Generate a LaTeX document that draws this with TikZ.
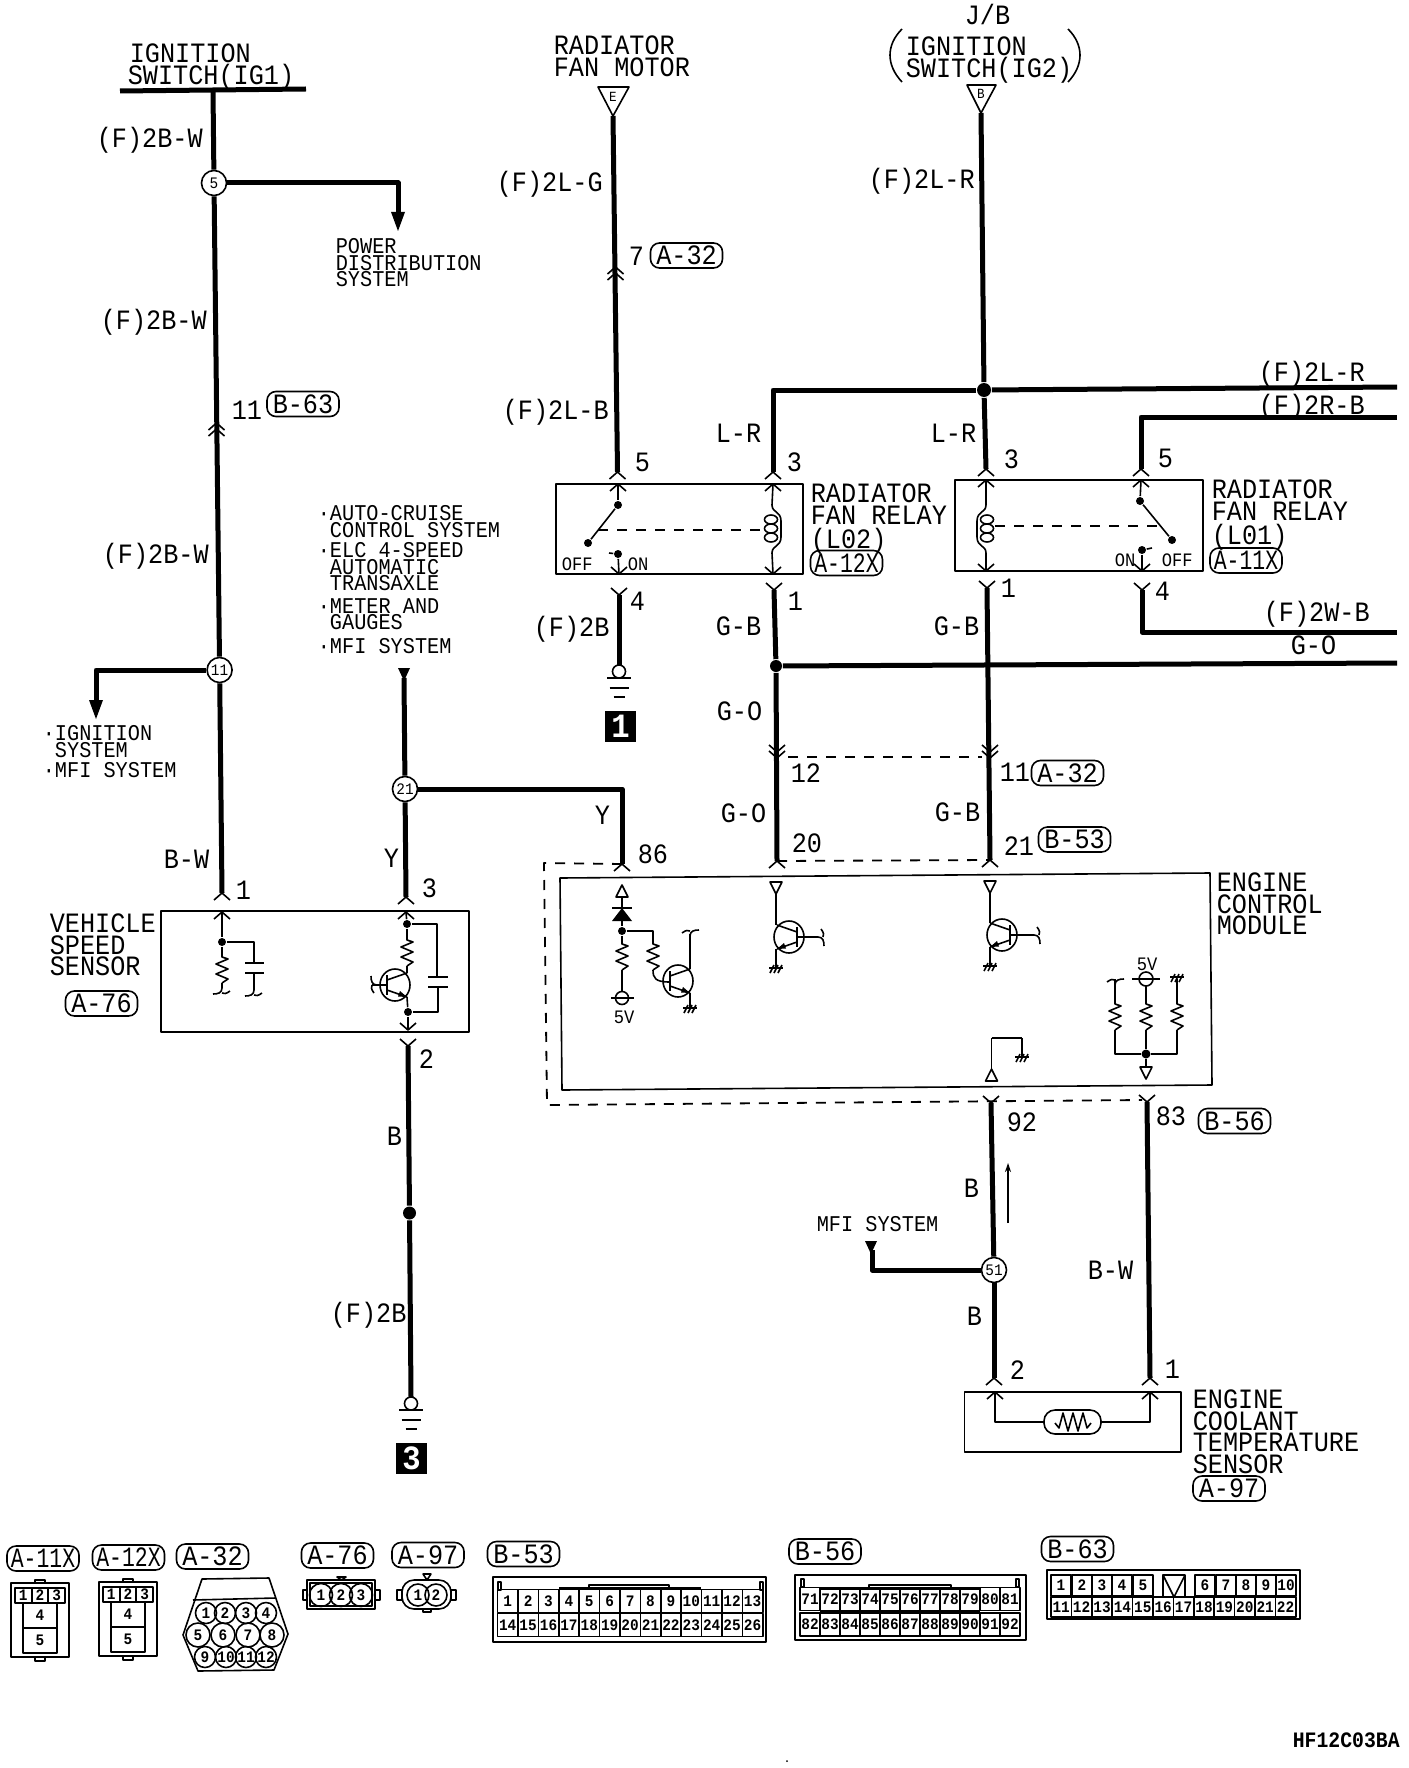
\documentclass[tikz,border=0pt]{standalone}
\usepackage{fontspec}
\usetikzlibrary{arrows.meta}
\newfontfamily\wirefont[FakeStretch=0.9]{Liberation Mono}
\newcommand\bigtxt{\wirefont\fontsize{28}{21.5}\selectfont}
\newcommand\smalltxt{\wirefont\fontsize{22.5}{16.5}\selectfont}
\newcommand\tinytxt{\wirefont\fontsize{19}{19}\selectfont}
\newcommand\pintxt{\wirefont\bfseries\fontsize{16}{16}\selectfont}
\lineskiplimit=-30pt
\tikzset{
	wire/.style={line width=5pt},
	shield/.style={line width=1.8pt,dash pattern=on 10pt off 9pt},
	lab/.style={font=\bigtxt,inner sep=0pt,anchor=base west},
	slab/.style={font=\smalltxt,inner sep=0pt,anchor=base west},
	tlab/.style={font=\tinytxt,inner sep=0pt,anchor=base west},
	block/.style={font=\bigtxt,inner sep=0pt,anchor=north west,align=left},
	sblock/.style={font=\smalltxt,inner sep=0pt,anchor=north west,align=left},
	tag/.style={draw,rounded corners=9pt,minimum width=72pt,minimum height=25pt,inner sep=0pt,font=\bigtxt},
	junc/.style={draw,circle,fill=white,minimum size=25pt,inner sep=0pt,font=\wirefont\fontsize{16}{16}\selectfont},
	jdot/.style={circle,fill=black,inner sep=0pt,minimum size=#1},
	badge/.style={fill=black,text=white,minimum width=31pt,minimum height=31pt,inner sep=0pt,font=\wirefont\bfseries\fontsize{34}{34}\selectfont},
	pinbox/.style={draw,minimum width=20.4pt,minimum height=23pt,inner sep=0pt,font=\pintxt},
	pincirc/.style={draw,circle,minimum size=#1,inner sep=0pt,font=\pintxt},
	chup/.pic={\draw (-8,7)--(0,0)--(8,7);},
	chdown/.pic={\draw (-8,-7)--(0,0)--(8,-7);},
	chupup/.pic={\draw (-8,7)--(0,0)--(8,7) (-8,13)--(0,6)--(8,13);},
	chdowndown/.pic={\draw (-8,-7)--(0,0)--(8,-7) (-8,-1)--(0,6)--(8,-1);},
	bigtip/.pic={\fill (-7,-19)--(7,-19)--(0,0)--cycle;},
	smalltip/.pic={\fill (-6,-13)--(6,-13)--(0,0)--cycle;},
	opendown/.pic={\draw[fill=white] (-6,-12)--(6,-12)--(0,0)--cycle;},
	openup/.pic={\draw[fill=white] (-6,12)--(6,12)--(0,0)--cycle;},
	res/.pic={\draw (0,0)--(0,2)--(6,4)--(-6,9)--(6,14)--(-6,19)--(6,24)--(0,28);},
	foot/.pic={\draw (-9,6) .. controls (-4,6) and (0,5) .. (0,0) (0,5) .. controls (2,6) and (4,6) .. (8,3);},
	gndhash/.pic={\draw (-7,0)--(7,0);
		\foreach \k in {-4,0,4} {\draw (\k+2,-3)--(\k-2,5);}},
	earth/.pic={\draw (0,6.5) circle (6.5);
		\draw[line width=2pt] (-12,13)--(12,13) (-9.5,23)--(9.5,23) (-5.5,32)--(5.5,32);},
	coil/.pic={\draw (0,0) .. controls (0,8) and (9,6) .. (9,16)--(9,32) .. controls (9,42) and (0,40) .. (0,48);
		\foreach \k in {14.5,23.5,32.5} {\draw (-1,\k) ellipse (6.5 and 4.5);}},
	qnpn/.pic={\draw (0,0) ellipse (15 and 16);
		\draw[line width=2.2pt] (-8,-10)--(-8,10);
		\draw (-8,-5)--(12,-12) (-8,5)--(12,12);
		\fill (12,12)--(3,11.5)--(5,6)--cycle;},
	relaypins/.pic={\draw (0,0) rectangle (58,74);
		\draw (24,-3) rectangle (34,0) (24,74) rectangle (34,78);
		\foreach \n/\px in {1/12.3,2/29,3/45.7} {\node[pinbox,minimum width=16.7pt,minimum height=15pt,line width=2pt] (-n\n) at (\px,12.5) {\n};}
		\node[pinbox,minimum width=34pt,minimum height=25pt] (-n4) at (29,32.5) {4};
		\node[pinbox,minimum width=34pt,minimum height=25pt] (-n5) at (29,57.5) {5};},
}
\begin{document}
\begin{tikzpicture}[x=1pt,y=-1pt,line width=1.6pt,line join=round]
	\path[use as bounding box,fill=white] (0,0) rectangle (1408,1768);
	% circled junctions and dots
	\node[junc] (j5) at (214,183) {5};
	\node[junc] (j11) at (219.6,670) {11};
	\node[junc] (j21) at (405,789) {21};
	\node[junc] (j51) at (994,1270) {51};
	\node[jdot=14pt] (jb) at (984,390) {};
	\node[jdot=12pt] (jgo) at (776,666) {};
	\node[jdot=13pt] (sp1) at (409.5,1213) {};
	\path (213,91) coordinate (ig1)
	(398,214) coordinate (pwr)
	(96,702) coordinate (ign)
	(222,893) coordinate (vss1)
	(404,678) coordinate (mfi1)
	(406,897) coordinate (vss3)
	(622,864) coordinate (ecm86)
	(408,1046) coordinate (vss2)
	(411,1397) coordinate (gnd3)
	(613,116) coordinate (mot)
	(617.5,472) coordinate (rl5)
	(619,595) coordinate (rl4)
	(619,665) coordinate (gnd1)
	(981,113) coordinate (jbin)
	(773,472) coordinate (rl3)
	(986,469) coordinate (rr3)
	(1141,469) coordinate (rr5)
	(1397,387) coordinate (out2lr)
	(1397,417) coordinate (out2rb)
	(774,590) coordinate (rl1)
	(987,588) coordinate (rr1)
	(1142,590) coordinate (rr4)
	(1397,632) coordinate (out2wb)
	(1397,663) coordinate (outgo)
	(777,861) coordinate (ecm20)
	(990,860) coordinate (ecm21)
	(991,1103) coordinate (ecm92)
	(1147,1102) coordinate (ecm83)
	(994,1378) coordinate (ect2)
	(1150,1378) coordinate (ect1)
	(872,1250) coordinate (mfi2);
	% main wires
	\draw[wire] (120,91)--(306,89);
	\draw[wire] (ig1)--(j5);
	\draw[wire] (j5)--(j11);
	\draw[wire] (j11)--(vss1);
	\draw[wire] (j5) -| (pwr);
	\draw[wire] (j11) -| (ign);
	\draw[wire] (mfi1)--(j21);
	\draw[wire] (j21)--(vss3);
	\draw[wire] (j21) -| (ecm86);
	\draw[wire] (vss2)--(sp1);
	\draw[wire] (sp1)--(gnd3);
	\draw[wire] (mot)--(rl5);
	\draw[wire] (rl4)--(gnd1);
	\draw[wire] (jbin)--(jb);
	\draw[wire] (jb) -| (rl3);
	\draw[wire] (jb)--(rr3);
	\draw[wire] (jb)--(out2lr);
	\draw[wire] (out2rb) -| (rr5);
	\draw[wire] (rl1)--(jgo);
	\draw[wire] (jgo)--(ecm20);
	\draw[wire] (rr1)--(ecm21);
	\draw[wire] (rr4) |- (out2wb);
	\draw[wire] (jgo)--(outgo);
	\draw[wire] (ecm92)--(j51);
	\draw[wire] (j51)--(ect2);
	\draw[wire] (ecm83)--(ect1);
	\draw[wire] (mfi2) |- (j51);
	% arrow ends and connectors
	\pic at (398,231) {bigtip};
	\pic at (96,719) {bigtip};
	\pic at (404,681) {smalltip};
	\pic at (871,1254) {smalltip};
	\pic at (216.5,423) {chupup};
	\pic at (615.5,267) {chupup};
	\pic at (777,752) {chdowndown};
	\pic at (990,752) {chdowndown};
	\foreach \c in {vss1,vss3,ecm86,rl5,rl3,rr3,rr5,ecm20,ecm21,ect2,ect1} {\pic at (\c) {chup};}
	\foreach \c in {vss2,rl4,rl1,rr1,rr4,ecm92,ecm83} {\pic at (\c) {chdown};}
	\pic at (619,665) {earth};
	\pic at (411,1397) {earth};
	\node[badge] (g1) at (620.5,726.5) {1};
	\node[badge] (g3) at (411.5,1458.5) {3};
	\draw[shield] (ecm86) -- (544,863) -- (547,1105) -- (1142,1100);
	\draw[shield] (ecm20)--(ecm21);
	\draw[shield] (788,757)--(982,757);
	\draw[-{Stealth[length=9pt,width=6pt]}] (1008,1223)--(1008,1163);
	% source triangles
	\draw (598,87)--(629,87)--(mot)--cycle;
	\node[font=\wirefont\fontsize{14}{14}\selectfont,inner sep=0pt] (mote) at (613,97) {E};
	\draw (967,85)--(996,85)--(jbin)--cycle;
	\node[font=\wirefont\fontsize{14}{14}\selectfont,inner sep=0pt] (jbb) at (981,94) {B};
	\draw (902,29) .. controls (886,45) and (886,65) .. (902,82);
	\draw (1068,29) .. controls (1084,45) and (1084,65) .. (1068,82);
	% radiator fan relay L02
	\draw (556,484) rectangle (803,574);
	\pic at (618,484) {chup};
	\pic at (773,484) {chup};
	\pic at (619,574) {chdown};
	\pic at (773,574) {chdown};
	\node[jdot=8pt] (l2a) at (618,505) {};
	\node[jdot=8pt] (l2b) at (588,543) {};
	\node[jdot=8pt] (l2c) at (618,554) {};
	\draw (618,484)--(l2a);
	\draw (l2a)--(l2b);
	\draw (l2c)--(619,574);
	\draw (l2c)--(609,553);
	\draw (773,484)--(772,505);
	\pic at (772,505) {coil};
	\draw (772,553)--(773,574);
	\draw[shield] (598,530)--(764,530);
	% radiator fan relay L01
	\draw (955,480) rectangle (1203,571);
	\pic at (986,480) {chup};
	\pic at (1141,480) {chup};
	\pic at (986,571) {chdown};
	\pic at (1142,571) {chdown};
	\node[jdot=8pt] (l1a) at (1140,501) {};
	\node[jdot=8pt] (l1b) at (1172,540) {};
	\node[jdot=8pt] (l1c) at (1142,550) {};
	\draw (1141,480)--(l1a);
	\draw (l1a)--(l1b);
	\draw (l1c)--(1142,571);
	\draw (l1c)--(1152,548);
	\draw (986,480)--(986,505);
	\pic[xscale=-1] at (986,505) {coil};
	\draw (986,553)--(986,571);
	\draw[shield] (995,526)--(1164,526);
	% vehicle speed sensor
	\draw (161,911) rectangle (469,1032);
	\pic at (222,912) {chup};
	\pic at (406,912) {chup};
	\pic at (408,1030) {chdown};
	\node[jdot=8pt] (v1) at (222,942) {};
	\draw (222,912)--(v1);
	\pic at (222,955) {res};
	\draw (v1)--(222,955);
	\pic at (222,988) {foot};
	\draw (222,983)--(222,988);
	\draw (v1)--(254,942)--(254,963);
	\draw[line width=2pt] (245,963)--(264,963) (245,973)--(264,973);
	\draw (254,973)--(254,990);
	\pic at (254,990) {foot};
	\node[jdot=8pt] (v2) at (407,924) {};
	\node[jdot=8pt] (v3) at (408,1012) {};
	\draw (406,912)--(v2);
	\draw (v2)--(407,938);
	\pic at (407,938) {res};
	\pic at (395,985) {qnpn};
	\draw (407,966)--(407,973) (407,997)--(v3);
	\draw (v3)--(408,1030);
	\draw (v2)--(437,924)--(437,977);
	\draw[line width=2pt] (428,977)--(448,977) (428,987)--(448,987);
	\draw (438,987)--(438,1012)--(v3);
	\draw (387,985)--(372,985);
	\pic[rotate=-90] at (377,985) {foot};
	% engine control module
	\draw (560,878)--(1210,873)--(1212,1085)--(562,1090)--cycle;
	\pic at (622,885) {openup};
	\draw (622,897)--(622,908);
	\draw[line width=2pt] (612,908)--(632,908);
	\fill (622,908)--(632,921)--(612,921)--cycle;
	\node[jdot=8pt] (e1) at (622,931) {};
	\draw (622,921)--(e1);
	\draw (e1)--(622,942);
	\pic at (622,942) {res};
	\draw (622,970)--(622,991.5);
	\draw (622,998) circle (6.5);
	\draw (611,998)--(634,998);
	\draw (e1)--(653,931)--(653,942);
	\pic at (653,942) {res};
	\draw (653,970) .. controls (653,978) and (655,982) .. (670,982);
	\pic at (678,981) {qnpn};
	\draw (690,969)--(690,934);
	\pic[rotate=180] at (690,936) {foot};
	\draw (690,993)--(690,1007);
	\pic at (690,1008) {gndhash};
	\pic at (776,894) {opendown};
	\draw (776,894)--(776,925);
	\pic[xscale=-1] at (789,937) {qnpn};
	\draw (776,949)--(776,967);
	\pic at (776,968) {gndhash};
	\draw (797,937)--(818,937);
	\pic[rotate=90] at (818,937) {foot};
	\pic at (990,893) {opendown};
	\draw (990,893)--(990,923);
	\pic[xscale=-1] at (1002,935) {qnpn};
	\draw (990,947)--(990,965);
	\pic at (990,966) {gndhash};
	\draw[line width=2.4pt] (1010,935)--(1034,935);
	\pic[rotate=90] at (1034,935) {foot};
	\pic at (991.5,1069) {openup};
	\draw (991.5,1069)--(991.5,1038);
	\draw[line width=2.4pt] (991.5,1038)--(1022,1038);
	\draw (1022,1038)--(1022,1056);
	\pic at (1022,1057) {gndhash};
	\draw (1146,979) circle (7);
	\draw (1132,979)--(1160,979);
	\node[jdot=9pt] (e2) at (1146,1054) {};
	\draw (1146,986)--(1146,1002);
	\foreach \px in {1115,1146,1177} {\pic at (\px,1002) {res};}
	\draw (1115,979)--(1115,1002);
	\pic[rotate=180] at (1115,985) {foot};
	\draw (1177,979)--(1177,1002);
	\pic at (1177,977) {gndhash};
	\draw[line width=2.4pt] (1115,1030)--(1115,1054)--(e2);
	\draw (e2)--(1177,1054)--(1177,1030);
	\draw (1146,1030)--(e2);
	\draw (e2)--(1146,1067);
	\pic at (1146,1079) {opendown};
	% engine coolant temperature sensor
	\draw (964.5,1392) rectangle (1181,1452);
	\pic at (995,1392) {chup};
	\pic at (1150,1392) {chup};
	\node[draw,rounded corners=11pt,minimum width=57pt,minimum height=24pt,inner sep=0pt] (therm) at (1072.5,1422) {};
	\draw (995,1392) |- (therm);
	\draw (1150,1392) |- (therm);
	\draw (1055,1423)--(1059,1428)--(1063,1413)--(1068,1431)--(1073,1413)--(1078,1431)--(1083,1413)--(1087,1428)--(1091,1423);
	% texts
	\node[block] (tig1) at (127,43) {\hspace{2pt}IGNITION\\SWITCH(IG1)};
	\node[block] (tmot) at (553,35) {RADIATOR\\FAN MOTOR};
	\node[lab] (tjb) at (964,25) {J/B};
	\node[block] (tig2) at (905,36) {IGNITION\\SWITCH(IG2)};
	\node[sblock] (tpwr) at (335,238) {POWER\\DISTRIBUTION\\SYSTEM};
	\node[sblock] (tlist1) at (317,505) {·AUTO-CRUISE\\\phantom{·}CONTROL SYSTEM\\[4pt]·ELC 4-SPEED\\\phantom{·}AUTOMATIC\\\phantom{·}TRANSAXLE\\[6pt]·METER AND\\\phantom{·}GAUGES\\[7pt]·MFI SYSTEM};
	\node[sblock] (tlist2) at (42,725) {·IGNITION\\\phantom{·}SYSTEM\\[4pt]·MFI SYSTEM};
	\node[block] (tvss) at (49,913) {VEHICLE\\SPEED\\SENSOR};
	\node[block] (trl2) at (810,483) {RADIATOR\\FAN RELAY\\[3pt](L02)};
	\node[block] (trl1) at (1211,479) {RADIATOR\\FAN RELAY\\[3pt](L01)};
	\node[block] (tecm) at (1216,872) {ENGINE\\CONTROL\\MODULE};
	\node[block] (tect) at (1192,1389) {ENGINE\\COOLANT\\TEMPERATURE\\SENSOR};
	\node[sblock,anchor=base west] (tmfi) at (816,1231) {MFI SYSTEM};
	\node[font=\wirefont\bfseries\fontsize{22}{22}\selectfont,inner sep=0pt,anchor=base west] (thf) at (1292,1747) {HF12C03BA};
	\foreach \t/\px/\py in {(F)2B-W/96/148,(F)2B-W/100/329,(F)2B-W/102/563,11/231/419,B-W/163/868,Y/383/867,(F)2L-G/496/192,(F)2L-B/502/419,(F)2B/533/636,(F)2L-R/868/189,(F)2L-R/1258/381,(F)2R-B/1258/414,(F)2W-B/1263/621,G-O/1290/654,L-R/715/442,L-R/930/442,G-B/715/635,G-B/933/635,G-O/716/720,G-O/720/822,G-B/934/821,12/790/782,11/999/781,20/791/852,21/1003/855,86/637/863,Y/594/824,92/1006/1131,83/1155/1125,B/963/1197,B/966/1325,B-W/1087/1279,B/386/1145,(F)2B/330/1322} {\node[lab] at (\px,\py) {\t};}
	\foreach \t/\px/\py in {7/628/266,5/634/471,3/786/471,3/1003/468,5/1157/467,1/787/610,4/629/610,1/1000/597,4/1154/600,1/235/899,3/421/897,2/418/1068,2/1009/1379,1/1164/1378} {\node[lab] at (\px,\py) {\t};}
	\foreach \t/\px/\py in {OFF/561/570,ON/627/570,ON/1114/566,OFF/1161/566,5V/613/1023,5V/1136/970} {\node[tlab] at (\px,\py) {\t};}
	% reference tags
	\foreach \t/\px/\py in {B-63/303/404,A-32/686.5/255.5,A-76/101.5/1003.5,B-53/1074.5/839.5,A-32/1067.5/773,B-56/1234.5/1121,A-97/1229/1488.5,A-32/212.5/1556.5,A-76/337.5/1555.5,A-97/428/1555,B-53/523.5/1554,B-56/825/1551.5,B-63/1077.5/1549} {\node[tag] at (\px,\py) {\t};}
	\node[tag] (ta12) at (846.5,563) {\scalebox{0.85}[1]{A-12X}};
	\node[tag] (ta11) at (1246,560.5) {\scalebox{0.85}[1]{A-11X}};
	\node[tag] (tb11) at (43,1558.5) {\scalebox{0.85}[1]{A-11X}};
	\node[tag] (tb12) at (128.5,1557.5) {\scalebox{0.85}[1]{A-12X}};
	% connector faces
	\pic (c11) at (11,1583) {relaypins};
	\pic (c12) at (99,1582) {relaypins};
	\draw (202,1579)--(269,1578)--(288,1634)--(274,1670)--(198,1671)--(183,1635)--cycle;
	\draw (193,1600)--(276,1598);
	\foreach \n/\px/\py/\s in {1/206/1613/21pt,2/225/1613/21pt,3/246/1613/21pt,4/266/1613/21pt,5/198/1635/24pt,6/223/1635/24pt,7/248/1635/24pt,8/272/1635/24pt,9/205/1657/21pt,10/226/1657/21pt,11/246/1657/21pt,12/266/1657/21pt} {\node[pincirc=\s] (a32\n) at (\px,\py) {\n};}
	\draw (307,1580) rectangle (375,1609);
	\draw (310,1583) rectangle (372,1606);
	\draw (303,1590) rectangle (307,1600) (375,1590) rectangle (380,1600);
	\draw (337,1577)--(346,1577)--(341.5,1580)--cycle;
	\foreach \n/\px in {1/321,2/341,3/361} {\node[pincirc=23pt] (a76\n) at (\px,1595) {\n};}
	\draw[rounded corners=12pt] (402,1580) rectangle (451,1609);
	\draw (397,1590) rectangle (402,1600) (451,1590) rectangle (456,1600) (423,1609) rectangle (431,1612);
	\draw (423,1574)--(431,1574)--(427,1580)--cycle;
	\foreach \n/\px in {1/418,2/436} {\node[pincirc=22pt] (a97\n) at (\px,1595) {\n};}
	\draw[line width=2pt] (493,1577) rectangle (766,1642);
	\draw (589,1588) rectangle (669,1585);
	\draw (498,1590) rectangle (501,1582);
	\draw (760,1590) rectangle (763,1582);
	\fill (559,1587) rectangle (701,1590);
	\foreach \i in {1,...,13} {
		\pgfmathsetmacro\px{497.5+(\i-0.5)*20.4}
		\pgfmathtruncatemacro\k{\i+13}
		\node[pinbox] (b53a\i) at (\px,1601) {\i};
		\node[pinbox] (b53b\k) at (\px,1625) {\k};
	}
	\fill (559,1612) rectangle (701,1614);
	\draw[line width=2pt] (795,1575) rectangle (1026,1640);
	\draw (869,1588) rectangle (951,1585);
	\draw (801,1587) rectangle (804,1579);
	\draw (1016,1587) rectangle (1019,1579);
	\fill (820,1587) rectangle (980,1590);
	\foreach \i in {1,...,11} {
		\pgfmathsetmacro\px{800+(\i-0.5)*20}
		\pgfmathtruncatemacro\k{\i+70}
		\pgfmathtruncatemacro\m{\i+81}
		\node[pinbox,minimum width=20pt] (b56a\k) at (\px,1599) {\k};
		\node[pinbox,minimum width=20pt] (b56b\m) at (\px,1624.5) {\m};
	}
	\fill (820,1610) rectangle (980,1613);
	\draw[line width=2pt] (1047,1570) rectangle (1300,1619);
	\foreach \n/\px in {1/1061,2/1082,3/1102,4/1122,5/1143,6/1205,7/1226,8/1246,9/1266,10/1286} {\node[pinbox,minimum height=21pt] (b63a\n) at (\px,1585.5) {\n};}
	\foreach \i in {11,...,22} {
		\pgfmathsetmacro\px{1051+(\i-10.5)*20.4}
		\node[pinbox,minimum height=20pt] (b63b\i) at (\px,1607) {\i};
	}
	\draw (1163,1575) rectangle (1185,1597);
	\draw (1163,1575)--(1174,1597)--(1185,1575);
	\fill (787,1761) circle (1);
\end{tikzpicture}
\end{document}
